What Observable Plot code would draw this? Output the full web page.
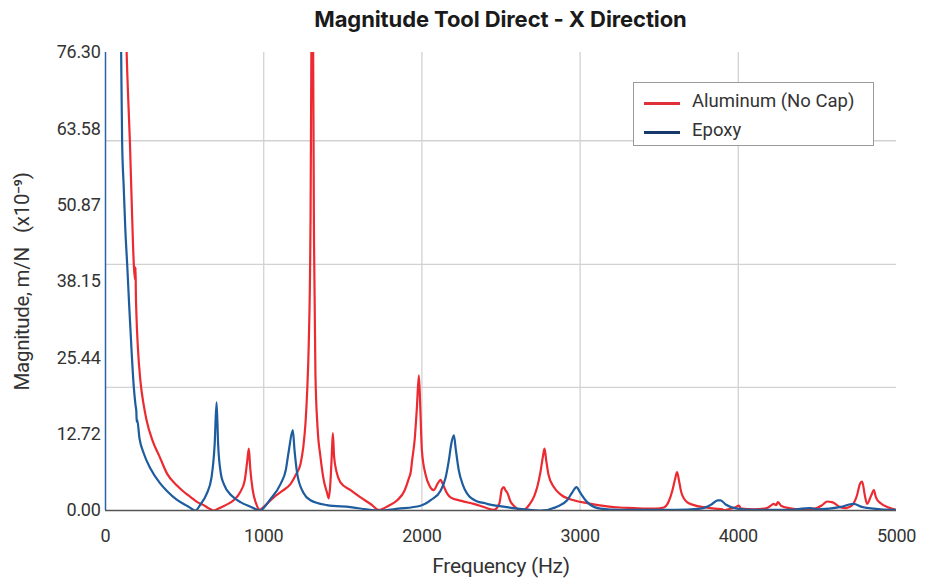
<!DOCTYPE html>
<html>
<head>
<meta charset="utf-8">
<script src="https://cdn.jsdelivr.net/npm/d3@7"></script>
<script src="https://cdn.jsdelivr.net/npm/@observablehq/plot@0.6"></script>
<style>
  body { margin: 0; background: #fff; font-family: Roboto, "Noto Sans", sans-serif; }
  #wrap { position: relative; width: 925px; height: 579px; }
  #title { position: absolute; left: 105px; width: 791px; top: 6px; text-align: center; font-family: Inter, Roboto, sans-serif; font-weight: 700; font-size: 22px; color: #1a1a1a; letter-spacing: -0.1px; }
  #chart { position: absolute; left: 0; top: 40px; }
  #legend { position: absolute; left: 633px; top: 82px; width: 241px; height: 64px; border: 1px solid #9a9a9a; background: #fff; box-sizing: border-box; }
  .li { position: absolute; left: 10px; height: 20px; font-size: 18.5px; color: #333; }
  .sw { position: absolute; left: 0; top: 10px; width: 36px; height: 2.5px; }
  .lt { position: absolute; left: 48px; top: -2px; white-space: nowrap; }
</style>
</head>
<body>
<div id="wrap">
  <div id="title">Magnitude Tool Direct - X Direction</div>
  <div id="chart"></div>
  <div id="legend"></div>
</div>
<script>
const title = "Magnitude Tool Direct - X Direction";
const seriesNames = ["Aluminum (No Cap)", "Epoxy"];
const seriesColors = ["#ec2a31", "#1d5c9e"];
const legendColors = ["#e0303a", "#16386b"];
const yTicks = [0, 12.72, 25.44, 38.15, 50.87, 63.58, 76.30];
const xTicks = [0, 1000, 2000, 3000, 4000, 5000];
const yGrid = [20.5, 41.0, 61.6];
const xGrid = [1000, 2000, 3000, 4000];

const alFreq = [120,133,143,154,166,179,186,190,192,195,205,221,240,260,295,343,390,450,500,540,580,620,650,685,720,760,810,850,880,895,906,915,930,950,976,1000,1064,1120,1169,1200,1233,1250,1264,1275,1285,1295,1302,1306,1312,1318,1327,1340,1359,1380,1400,1411,1420,1430,1437,1445,1460,1485,1549,1612,1680,1728,1790,1844,1890,1917,1930,1938,1955,1968,1981,1990,2000,2023,2050,2075,2100,2118,2135,2160,2181,2250,2328,2400,2455,2490,2505,2518,2530,2539,2560,2581,2634,2680,2710,2729,2750,2765,2775,2785,2800,2834,2880,2960,3050,3171,3250,3338,3420,3480,3529,3560,3585,3600,3613,3625,3640,3676,3720,3780,3850,3900,3906,3950,3980,4003,4020,4100,4180,4210,4223,4240,4250,4270,4320,4400,4480,4530,4562,4590,4602,4640,4680,4720,4750,4770,4783,4800,4814,4840,4857,4870,4900,4950,5000];
const alMag  = [95,77,69,61.6,51,41,38.5,40.5,36,33,27,21.5,17.8,15,11.8,8.9,6.1,4.2,3,2.2,1.4,0.9,0.4,0,0.4,0.9,1.7,3,5,8,10.3,7,3.5,1.3,0.1,0.6,2.2,3.3,4.4,5.8,7.8,10.5,14.5,20,28,45,80,150,80,45,22.8,14,8.9,5,3,2.0,4,9,12.9,9,6.5,4.7,3.4,2.2,1.0,0.1,0.8,1.7,3.3,5.3,6.5,8.3,12,17,22.5,17,10,6,4,3.4,4.5,5.1,4.2,2.8,2.2,1.6,1.1,0.5,0.1,1.2,3.5,3.9,3.3,3.0,1.5,0.8,0,1,2.4,3.9,6.5,9,10.3,8.5,6,3.9,2.6,1.7,1.2,0.7,0.5,0.4,0.3,0.3,0.5,1.5,3.5,5.2,6.4,5,3,1.4,0.9,0.55,0.3,0.2,0.05,0.3,0.5,0.8,0.3,0.2,0.4,0.9,1.1,0.9,1.4,0.8,0.4,0.2,0.3,0.9,1.5,1.4,1.3,0.6,0.4,0.9,2.5,4.5,4.8,2.5,1.1,2.5,3.4,2.2,1.2,0.5,0.1];

const epFreq = [85,99,105,115,125,137,150,165,179,190,195,197,200,215,242,284,343,390,450,520,569,600,640,670,690,702,712,730,748,800,853,920,976,1040,1106,1140,1159,1184,1195,1212,1250,1296,1400,1549,1650,1728,1850,1991,2060,2118,2150,2170,2185,2202,2215,2233,2260,2286,2350,2400,2412,2450,2539,2650,2750,2850,2918,2950,2977,3000,3045,3129,3250,3400,3600,3761,3830,3870,3888,3920,3993,4100,4300,4456,4500,4650,4700,4730,4780,4900,5000];
const epMag  = [110,76.3,61.6,54,47,41,34,26.5,20.5,17.5,16.5,14.8,15.2,12,9.5,7.0,4.6,3.2,1.8,0.7,0,1,2.8,5.5,11,18,11,6,4.4,2.4,1.4,0.6,0,1.8,4.4,6.8,10,13.4,10,6.1,3,1.7,0.9,0.55,0.2,0,0.3,0.8,1.8,3.3,5.5,8.3,11,12.5,10,6.7,4.2,2.8,1.5,1.2,1.1,0.9,0.55,0.2,0,0.6,1.7,3,3.9,3,1.4,0.3,0.1,0.1,0.1,0.3,1,1.7,1.7,1,0.3,0.1,0.1,0.4,0.2,0.6,1.0,1.1,0.6,0.2,0.1];

const rows = [];
alFreq.forEach((f, i) => rows.push({series: seriesNames[0], f, m: alMag[i]}));
epFreq.forEach((f, i) => rows.push({series: seriesNames[1], f, m: epMag[i]}));

const fontTick = "Roboto, sans-serif";
const plot = Plot.plot({
  width: 925,
  height: 539,
  marginTop: 12,
  marginLeft: 105,
  marginRight: 29,
  marginBottom: 69,
  style: {fontFamily: fontTick, fontSize: "18px", color: "#333", background: "transparent", letterSpacing: "-0.3px"},
  x: {domain: [0, 5000], label: null},
  y: {domain: [0, 76.30], label: null},
  color: {domain: seriesNames, range: seriesColors},
  marks: [
    Plot.ruleY(yGrid, {stroke: "#d2d2d2", strokeWidth: 1.3}),
    Plot.ruleX(xGrid, {stroke: "#d2d2d2", strokeWidth: 1.3}),
    Plot.axisX({ticks: xTicks, tickSize: 0, tickPadding: 19, tickFormat: d => String(d), label: null, fontSize: 18}),
    Plot.axisY({ticks: yTicks, tickSize: 0, tickPadding: 5, tickFormat: d => d.toFixed(2), label: null, fontSize: 18}),
    Plot.line(rows, {x: "f", y: "m", z: "series", stroke: "series", strokeWidth: 2.2, curve: "monotone-x", clip: true, strokeLinejoin: "round"}),
    Plot.ruleY([0], {stroke: "#555", strokeWidth: 1.5}),
    Plot.ruleX([0], {stroke: "#2a64a8", strokeWidth: 1.5}),
    Plot.text(["Frequency (Hz)"], {frameAnchor: "bottom", dy: 62, fontSize: 21, fill: "#333"}),
    Plot.text(["Magnitude, m/N   (x10⁻⁹)"], {frameAnchor: "left", textAnchor: "middle", dx: -83, rotate: -90, fontSize: 20.5, fill: "#333"})
  ]
});
document.getElementById("chart").appendChild(plot);

const leg = document.getElementById("legend");
seriesNames.forEach((n, i) => {
  const d = document.createElement("div");
  d.className = "li";
  d.style.top = (9 + i * 29) + "px";
  d.style.width = "225px";
  d.innerHTML = `<div class="sw" style="background:${legendColors[i]}"></div><div class="lt">${n}</div>`;
  leg.appendChild(d);
});
</script>
</body>
</html>
